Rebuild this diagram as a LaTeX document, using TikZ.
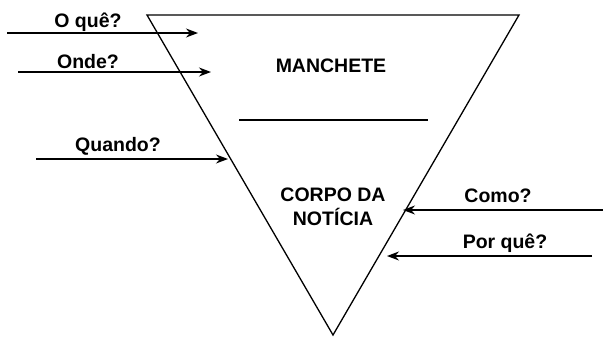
\documentclass[tikz,border=0pt]{standalone}
\usepackage{fontspec}
\setmainfont{Liberation Sans}
\usetikzlibrary{arrows.meta}
\begin{document}
\begin{tikzpicture}[x=1pt,y=-1pt,
  edge/.style={line width=1.3pt},
  arr/.style={line width=1.3pt,-{Stealth[length=12pt,width=9pt]}},
  lbl/.style={font=\bfseries\fontsize{19.5}{24}\selectfont,anchor=base,inner sep=0pt}]
\useasboundingbox (0,0) rectangle (603,338);
% triangle
\coordinate (tl) at (147,15);
\coordinate (tr) at (519,15);
\coordinate (bt) at (333,335);
\draw[edge,line join=miter] (tl) -- (tr) -- (bt) -- cycle;
% divider
\coordinate (dl) at (239,120);
\coordinate (dr) at (428,120);
\draw[edge] (dl) -- (dr);
% texts
\node[lbl] (manchete) at (331,72) {MANCHETE};
\node[lbl,align=center] (corpo) at (333,225) {CORPO DA\\NOTÍCIA};
% arrows
\coordinate (a1s) at (7,33);  \coordinate (a1e) at (198,33);
\coordinate (a2s) at (18,72); \coordinate (a2e) at (211,72);
\coordinate (a3s) at (36,159); \coordinate (a3e) at (228,159);
\coordinate (a4s) at (603,210); \coordinate (a4e) at (403,210);
\coordinate (a5s) at (592,256); \coordinate (a5e) at (387,256);
\draw[arr] (a1s) -- (a1e);
\draw[arr] (a2s) -- (a2e);
\draw[arr] (a3s) -- (a3e);
\draw[arr] (a4s) -- (a4e);
\draw[arr] (a5s) -- (a5e);
\node[lbl] (oque) at (88,27) {O quê?};
\node[lbl] (onde) at (88,68) {Onde?};
\node[lbl] (quando) at (118,151) {Quando?};
\node[lbl] (como) at (498,202) {Como?};
\node[lbl] (porque) at (505,248) {Por quê?};
\end{tikzpicture}
\end{document}
